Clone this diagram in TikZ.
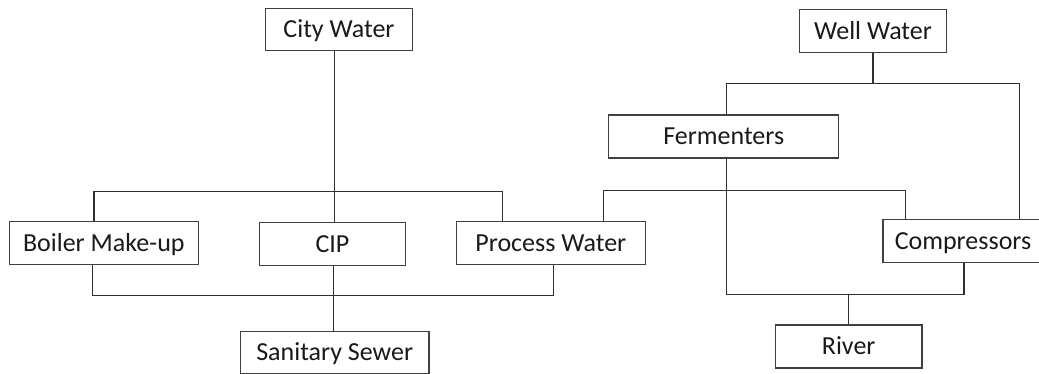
\documentclass[tikz,border=0pt]{standalone}
\usepackage{fontspec}
\setmainfont{Carlito}
\definecolor{boxline}{HTML}{404040}
\definecolor{wire}{HTML}{303030}
\definecolor{txt}{HTML}{1A1A1A}
\begin{document}
\begin{tikzpicture}[x=1pt,y=-1pt,
  box/.style={draw=boxline,line width=1.3pt,fill=white,inner sep=0pt,
    text=txt,font=\fontsize{26}{30}\selectfont,text height=16.5pt,text depth=0pt,
    minimum height=43pt},
  wires/.style={draw=wire,line width=1.3pt,line join=miter}]
\clip (0,0) rectangle (1039,374);
\fill[white] (0,0) rectangle (1039,374);
% nodes
\node[box,minimum width=146.6pt,minimum height=42pt] (city) at (339,29.3) {City Water};
\node[box,minimum width=146.6pt] (well) at (873,30.8) {Well Water};
\node[box,minimum width=230pt] (ferm) at (723.7,136.5) {Fermenters};
\node[box,minimum width=189pt] (boiler) at (103.8,243.3) {Boiler Make-up};
\node[box,minimum width=146.4pt] (cip) at (332.5,244.3) {CIP};
\node[box,minimum width=189pt] (proc) at (550.8,243.3) {Process Water};
\node[box,minimum width=160pt] (comp) at (963,241) {Compressors};
\node[box,minimum width=188.7pt,minimum height=41.6pt] (sewer) at (334.7,352.5) {Sanitary Sewer};
\node[box,minimum width=146.7pt] (river) at (848.7,346.5) {River};
% junction coordinates
\coordinate (jc) at (334.7,191.7);
\coordinate (u1) at (94,191.7);
\coordinate (u2) at (502.3,191.7);
\coordinate (l1) at (92.7,295.7);
\coordinate (l2) at (553.3,295.7);
\coordinate (sx) at (333.3,295.7);
\coordinate (w1) at (873,83.3);
\coordinate (wl) at (726.7,83.3);
\coordinate (wr) at (1019.7,83.3);
\coordinate (m1) at (603.3,190.7);
\coordinate (m2) at (905.3,190.7);
\coordinate (fd) at (726.7,294.7);
\coordinate (r2) at (964,294.7);
\coordinate (rv) at (848.7,294.7);
% connectors
\begin{scope}[on background layer/.style={}]
\draw[wires] (city.south -| jc) -- (cip.north -| jc);
\draw[wires] (boiler.north -| u1) -- (u1) -- (u2) -- (proc.north -| u2);
\draw[wires] (boiler.south -| l1) -- (l1) -- (l2) -- (proc.south -| l2);
\draw[wires] (cip.south -| sx) -- (sewer.north -| sx);
\draw[wires] (well.south -| w1) -- (w1);
\draw[wires] (ferm.north -| wl) -- (wl) -- (wr) -- (comp.north -| wr);
\draw[wires] (proc.north -| m1) -- (m1) -- (m2) -- (comp.north -| m2);
\draw[wires] (ferm.south -| fd) -- (fd) -- (r2) -- (comp.south -| r2);
\draw[wires] (rv) -- (river.north -| rv);
\end{scope}
\end{tikzpicture}
\end{document}
